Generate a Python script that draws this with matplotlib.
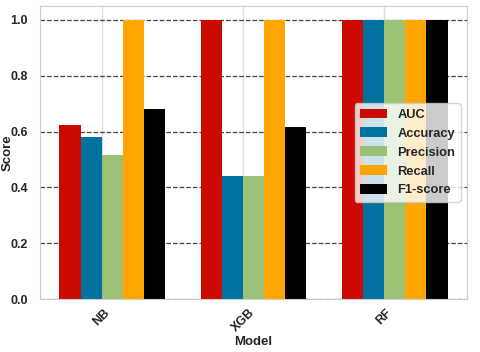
import numpy as np
import matplotlib
matplotlib.use("Agg")
import matplotlib.pyplot as plt
import seaborn as sns

sns.set_style("whitegrid")
plt.rcParams['font.family'] = ['Liberation Sans', 'DejaVu Sans']
plt.rcParams['font.weight'] = 'bold'

models = ["NB", "XGB", "RF"]
metrics = ["AUC", "Accuracy", "Precision", "Recall", "F1-score"]
auc = [0.623, 1.0, 1.0]
accuracy = [0.582, 0.442, 1.0]
precision = [0.515, 0.442, 1.0]
recall = [1.0, 1.0, 1.0]
f1 = [0.68, 0.617, 1.0]
series = [auc, accuracy, precision, recall, f1]
colors = ["#cc0a00", "#0072a0", "#9bc076", "#ffa500", "#000000"]

fig = plt.figure(figsize=(4.8, 3.52), dpi=100)
ax = fig.add_axes([40/480, 1 - 299/352, 427/480, 293/352])
x = np.arange(len(models))
width = 0.15
for i, (vals, name, c) in enumerate(zip(series, metrics, colors)):
    ax.bar(x + i * width, vals, width, label=name, color=c, edgecolor='none', linewidth=0)

ax.set_xticks(x + 1.5 * width)
ax.set_xticklabels(models, rotation=45, fontsize=9, fontweight='bold')
ax.set_ylim(0, 1.05)
ax.set_yticks([0, 0.2, 0.4, 0.6, 0.8, 1.0])
ax.set_yticklabels(["0.0", "0.2", "0.4", "0.6", "0.8", "1.0"], fontsize=9, fontweight='bold')
ax.yaxis.grid(True, linestyle='--', color='#444444', linewidth=0.9)
ax.xaxis.grid(True, color='#dddddd', linewidth=1)
ax.set_axisbelow(True)
ax.set_xlabel("Model", fontsize=9.5, fontweight='bold', labelpad=1)
ax.set_ylabel("Score", fontsize=9.5, fontweight='bold')
ax.yaxis.set_label_coords(-0.062, 0.5)
for s in ax.spines.values():
    s.set_color('#cccccc')
ax.tick_params(axis='y', pad=5)
ax.tick_params(axis='x', pad=2)
leg = ax.legend(loc='center right', prop={'weight': 'bold', 'size': 9.3}, frameon=True,
                framealpha=0.8, handlelength=2.1, handleheight=0.8,
                labelspacing=0.5, borderaxespad=0.5)
fig.savefig("out.png", dpi=100)
